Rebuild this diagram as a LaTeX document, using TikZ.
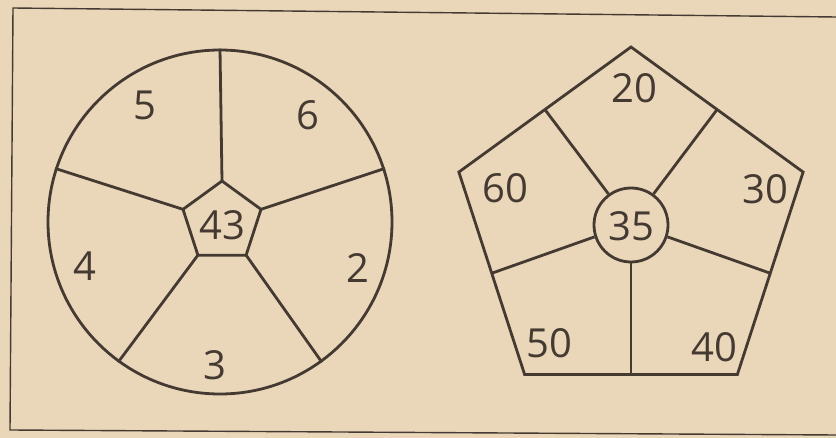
\documentclass[tikz,border=0pt]{standalone}
\usepackage{fontspec}
\setmainfont{Open Sans}
\usepackage{xcolor}
\usetikzlibrary{shapes.geometric}
\definecolor{paper}{RGB}{234,215,186}
\definecolor{ink}{RGB}{68,58,50}

\begin{document}
\begin{tikzpicture}[
    x=1pt, y=-1pt,
    line/.style={draw=ink, line width=2.8pt},
    num/.style={text=ink, font=\fontsize{40}{40}\selectfont, inner sep=0pt}
]
\fill[paper] (0,0) rectangle (836,438);
\useasboundingbox (0,0) rectangle (836,438);
% frame
\draw[ink, line width=1.4pt] (836,17) -- (13,8) -- (10,430) -- (836,435);

% left figure: wheel with pentagon hub
\node[line, circle, minimum size=344pt, inner sep=0pt] (wheel) at (220,222) {};
\node[line, regular polygon, regular polygon sides=5, minimum size=82pt, inner sep=0pt, outer sep=0pt] (hub) at (222,222) {};
\foreach \i/\a in {1/90,2/162,3/234,4/306,5/18}
    \draw[line] (hub.corner \i) -- (wheel.\a);
\node[num] (n43) at (222,225) {43};
\node[num] (n5) at (145,105) {5};
\node[num] (n6) at (308,115) {6};
\node[num] (n2) at (358,268) {2};
\node[num] (n3) at (215,365) {3};
\node[num] (n4) at (85,266) {4};

% right figure: pentagon with round hub
\node[line, regular polygon, regular polygon sides=5, minimum size=362pt, inner sep=0pt, outer sep=0pt] (pent) at (631,228) {};
\node[line, circle, minimum size=74pt, inner sep=0pt] (mid) at (631,225) {};
\foreach \i/\a in {1/126,2/198,3/270,4/342,5/54}
    \draw[line] (mid.\a) -- (pent.side \i);
\node[num] (n35) at (631,226) {35};
\node[num] (n20) at (634,88) {20};
\node[num] (n30) at (765,189) {30};
\node[num] (n40) at (714,347) {40};
\node[num] (n50) at (549,343) {50};
\node[num] (n60) at (505,188) {60};
\end{tikzpicture}
\end{document}
